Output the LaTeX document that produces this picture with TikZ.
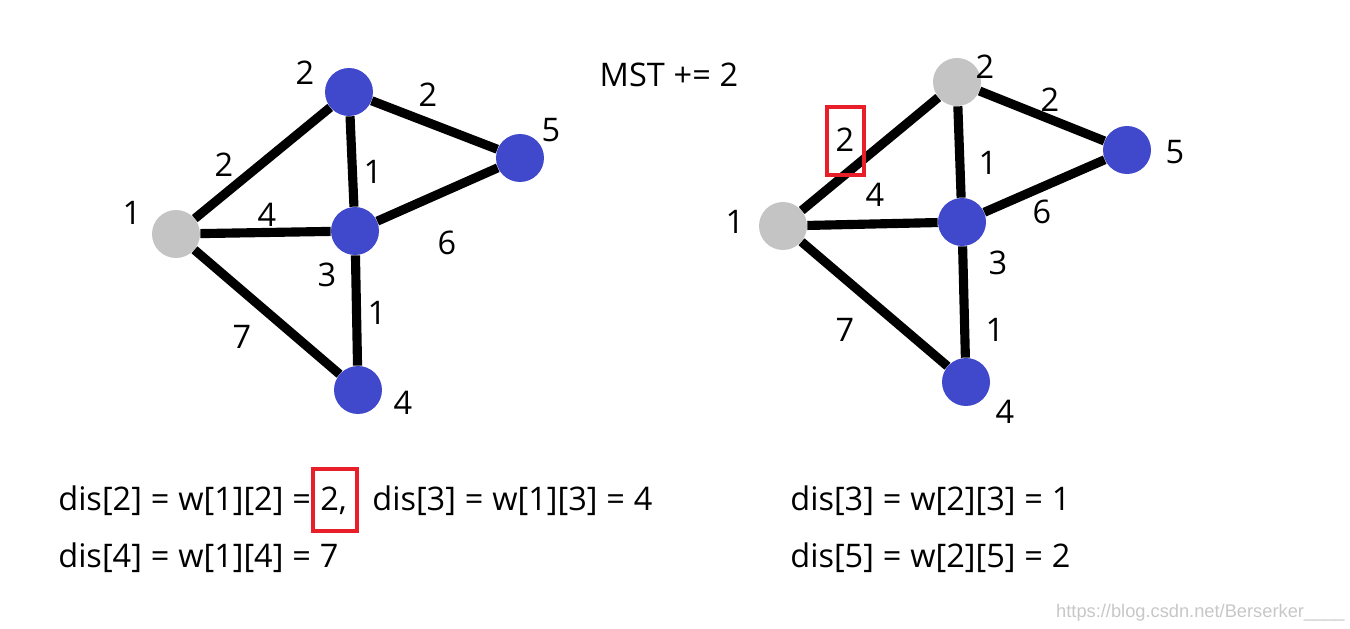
\documentclass[tikz,border=0pt]{standalone}
\usepackage{fontspec}
\setmainfont{Open Sans}[WordSpace=1.05]
\newfontfamily\markfont{Liberation Sans}
\usetikzlibrary{positioning}
\definecolor{VisBlue}{RGB}{64,72,204}
\definecolor{DoneGray}{RGB}{196,196,196}
\definecolor{MarkRed}{RGB}{232,30,40}

\begin{document}
\begin{tikzpicture}[x=0.02cm,y=-0.02cm,
  txt/.style={font=\fontsize{18.5}{22}\selectfont,inner sep=0pt},
  vtx/.style={circle,minimum size=0.96cm,inner sep=0pt},
  open/.style={vtx,fill=VisBlue},
  done/.style={vtx,fill=DoneGray},
  edge/.style={line width=5.2pt,black},
  redbox/.style={draw=MarkRed,line width=2pt}]
\useasboundingbox (0,0) rectangle (1350,629);

% left graph
\node[done] (a1) at (176,234) {};
\node[open] (a2) at (349,92) {};
\node[open] (a5) at (520,158) {};
\node[open] (a3) at (355,231) {};
\node[open] (a4) at (358,390) {};
\draw[edge] (a1) -- (a2);
\draw[edge] (a1) -- (a3);
\draw[edge] (a1) -- (a4);
\draw[edge] (a2) -- (a3);
\draw[edge] (a2) -- (a5);
\draw[edge] (a3) -- (a5);
\draw[edge] (a3) -- (a4);
\node[txt] (a1l) at (132,213) {1};
\node[txt] (a2l) at (305,73) {2};
\node[txt] (a3l) at (327,275) {3};
\node[txt] (a4l) at (403,403) {4};
\node[txt] (a5l) at (551,130) {5};
\node[txt] (w12) at (224,165) {2};
\node[txt] (w25) at (428,95) {2};
\node[txt] (w23) at (373,172) {1};
\node[txt] (w13) at (267,215) {4};
\node[txt] (w35) at (447,243) {6};
\node[txt] (w34) at (377,313) {1};
\node[txt] (w14) at (242,337) {7};

\node[txt] (mst) at (669,75) {MST += 2};

% right graph
\node[done] (b1) at (783,226) {};
\node[done] (b2) at (957,82) {};
\node[open] (b5) at (1127,150) {};
\node[open] (b3) at (962,222) {};
\node[open] (b4) at (966,382) {};
\draw[edge] (b1) -- (b2);
\draw[edge] (b1) -- (b3);
\draw[edge] (b1) -- (b4);
\draw[edge] (b2) -- (b3);
\draw[edge] (b2) -- (b5);
\draw[edge] (b3) -- (b5);
\draw[edge] (b3) -- (b4);
\node[txt] (b1l) at (735,222) {1};
\node[txt] (b2l) at (985,67) {2};
\node[txt] (b3l) at (998,263) {3};
\node[txt] (b4l) at (1005,412) {4};
\node[txt] (b5l) at (1175,152) {5};
\node[txt] (v12) at (845,140) {2};
\node[redbox,minimum width=0.74cm,minimum height=1.36cm] (v12box) at (845.5,141) {};
\node[txt] (v25) at (1050,100) {2};
\node[txt] (v23) at (988,163) {1};
\node[txt] (v13) at (875,195) {4};
\node[txt] (v35) at (1042,212) {6};
\node[txt] (v34) at (995,330) {1};
\node[txt] (v14) at (845,330) {7};

% distance updates
\node[txt,anchor=base west] (d2) at (58,510) {dis[2] = w[1][2] =};
\node[txt,anchor=base west] (d2v) at (320,510) {2,};
\node[redbox,minimum width=0.88cm,minimum height=1.24cm] (d2box) at (335,500) {};
\node[txt,anchor=base west] (d3) at (372,510) {dis[3] = w[1][3] = 4};
\node[txt,anchor=base west] (d4) at (58,567) {dis[4] = w[1][4] = 7};
\node[txt,anchor=base west] (e3) at (790,510) {dis[3] = w[2][3] = 1};
\node[txt,anchor=base west] (e5) at (790,567) {dis[5] = w[2][5] = 2};

\node[anchor=base east,inner sep=0pt,text=black!22,font=\markfont\fontsize{10.4}{12}\selectfont] (mark) at (1345,617) {https://blog.csdn.net/Berserker\_\_\_\_};
\end{tikzpicture}
\end{document}
